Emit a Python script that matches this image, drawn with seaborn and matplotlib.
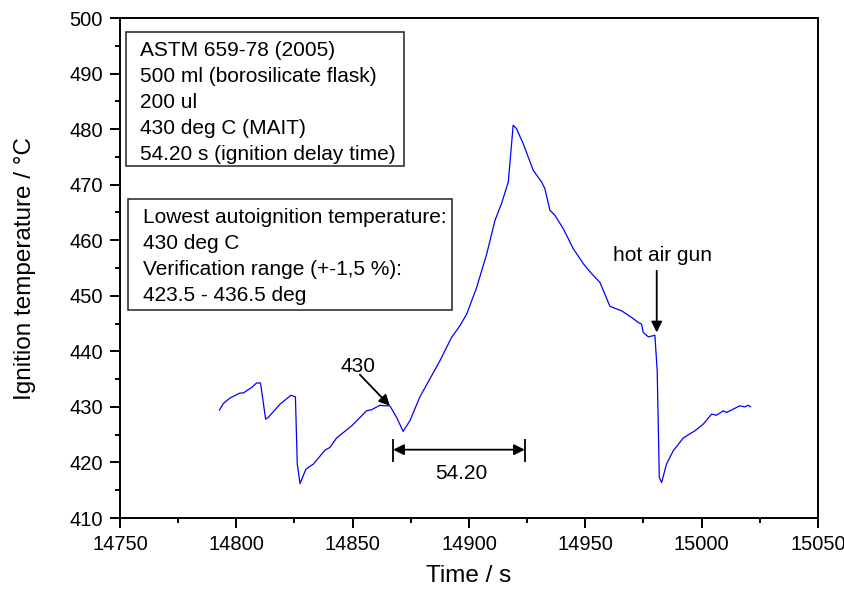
import matplotlib
matplotlib.use("Agg")

import pandas as pd
import seaborn as sns
import matplotlib.pyplot as plt
from matplotlib.patches import Rectangle
from matplotlib.ticker import MultipleLocator

time_s = [14792.7, 14794.4, 14797.3, 14801.6, 14803.0, 14806.6, 14808.7, 14810.4,
          14812.6, 14813.7, 14818.8, 14823.5, 14825.4, 14826.2, 14827.4, 14829.9,
          14833.1, 14838.1, 14840.2, 14843.1, 14849.6, 14856.0, 14858.2, 14861.7,
          14863.4, 14866.0, 14868.9, 14871.7, 14874.6, 14878.9, 14887.5, 14892.5,
          14896.1, 14899.0, 14903.3, 14907.6, 14911.2, 14914.0, 14916.9, 14919.0,
          14920.4, 14923.3, 14927.6, 14931.2, 14932.6, 14934.8, 14936.9, 14940.5,
          14944.8, 14949.1, 14952.7, 14956.3, 14958.4, 14960.6, 14965.6, 14969.9,
          14972.8, 14974.2, 14974.9, 14977.1, 14979.9, 14980.9, 14981.8, 14982.8,
          14984.9, 14987.8, 14992.1, 14997.1, 15000.7, 15004.3, 15006.4, 15009.3,
          15010.7, 15013.6, 15016.4, 15018.6, 15020.0, 15021.0]
temp_c = [429.4, 430.6, 431.6, 432.5, 432.5, 433.5, 434.3, 434.3,
          427.8, 428.1, 430.5, 432.1, 431.8, 419.7, 416.2, 418.8,
          419.7, 422.2, 422.7, 424.4, 426.6, 429.3, 429.5, 430.3,
          430.2, 430.2, 428.1, 425.6, 427.5, 431.8, 438.3, 442.5,
          444.6, 446.7, 451.5, 457.5, 463.6, 466.6, 470.5, 480.7,
          480.1, 477.4, 472.6, 470.5, 469.3, 465.4, 464.5, 462.1,
          458.5, 455.8, 454.0, 452.4, 450.3, 448.1, 447.3, 446.1,
          445.2, 444.9, 443.4, 442.6, 442.9, 436.5, 417.3, 416.4,
          419.7, 422.1, 424.4, 425.7, 426.9, 428.7, 428.5, 429.3,
          429.0, 429.6, 430.2, 430.0, 430.3, 430.0]

# annotation values
mait_label = "430"
mait_text_pos = (14852.3, 437.3)
mait_tail = (14853.1, 435.8)
mait_tip = (14866.0, 430.2)
gun_label = "hot air gun"
gun_text_pos = (14983.1, 457.2)
gun_tail = (14980.7, 454.5)
gun_tip = (14980.7, 443.4)
delay_start, delay_end = 14867.4, 14924.0
delay_level = 422.3
delay_label = "54.20"
delay_label_pos = (14896.7, 418.0)

box1_lines = ["ASTM 659-78 (2005)", "500 ml (borosilicate flask)", "200 ul",
              "430 deg C (MAIT)", "54.20 s (ignition delay time)"]
box2_lines = ["Lowest autoignition temperature:", "430 deg C",
              "Verification range (+-1,5 %):", "423.5 - 436.5 deg"]

df = pd.DataFrame({"t": time_s, "T": temp_c})

sns.set_style("ticks")
plt.rcParams['font.family'] = ['Liberation Sans', 'DejaVu Sans']
plt.rcParams['text.color'] = 'black'
plt.rcParams['axes.labelcolor'] = 'black'
plt.rcParams['xtick.color'] = 'black'
plt.rcParams['ytick.color'] = 'black'

fig = plt.figure(figsize=(8.45, 5.91), dpi=100)
ax = fig.add_axes([0.142, 0.1235, 0.826, 0.846])

sns.lineplot(data=df, x="t", y="T", sort=False, estimator=None,
             color="#0000ff", linewidth=0.9, ax=ax)

ax.set_xlim(14750, 15050)
ax.set_ylim(410, 500)
ax.xaxis.set_major_locator(MultipleLocator(50))
ax.xaxis.set_minor_locator(MultipleLocator(25))
ax.yaxis.set_major_locator(MultipleLocator(10))
ax.yaxis.set_minor_locator(MultipleLocator(5))
ax.tick_params(which="major", direction="out", length=7, width=1.4, labelsize=14.5, pad=5.5)
ax.tick_params(which="minor", direction="out", length=3.3, width=1.4)
for sp in ax.spines.values():
    sp.set_visible(True)
    sp.set_linewidth(1.4)
    sp.set_color("black")

ax.set_xlabel("Time / s", fontsize=17.5)
ax.set_ylabel("Ignition temperature / °C", fontsize=17.5)
ax.xaxis.set_label_coords(0.5, -0.094)
ax.yaxis.set_label_coords(-0.12, 0.5)

# text boxes (axes fraction)
for x0, y0, w, h in [(0.0086, 0.704, 0.3983, 0.268), (0.0115, 0.416, 0.4641, 0.222)]:
    ax.add_patch(Rectangle((x0, y0), w, h, transform=ax.transAxes, facecolor="white",
                           edgecolor="#222222", linewidth=1.1, zorder=3))
ax.text(0.0287, 0.831, "\n".join(box1_lines), transform=ax.transAxes, fontsize=15,
        va="center", ha="left", linespacing=1.48, zorder=4)
ax.text(0.0334, 0.523, "\n".join(box2_lines), transform=ax.transAxes, fontsize=15,
        va="center", ha="left", linespacing=1.48, zorder=4)

arrow_kw = dict(arrowstyle="-|>", color="black", lw=1.3, mutation_scale=16, shrinkA=0, shrinkB=0)
ax.text(*mait_text_pos, mait_label, fontsize=15, ha="center", va="center")
ax.annotate("", xy=mait_tip, xytext=mait_tail, arrowprops=arrow_kw)
ax.text(*gun_text_pos, gun_label, fontsize=15, ha="center", va="center")
ax.annotate("", xy=gun_tip, xytext=gun_tail, arrowprops=arrow_kw)

ax.annotate("", xy=(delay_start, delay_level), xytext=(delay_end, delay_level),
            arrowprops=dict(arrowstyle="<|-|>", color="black", lw=1.3,
                            mutation_scale=16, shrinkA=0, shrinkB=0))
ax.vlines([delay_start, delay_end], 420.1, 424.3, color="black", lw=1.3)
ax.text(*delay_label_pos, delay_label, fontsize=15, ha="center", va="center")

plt.savefig("out.png", dpi=100)
